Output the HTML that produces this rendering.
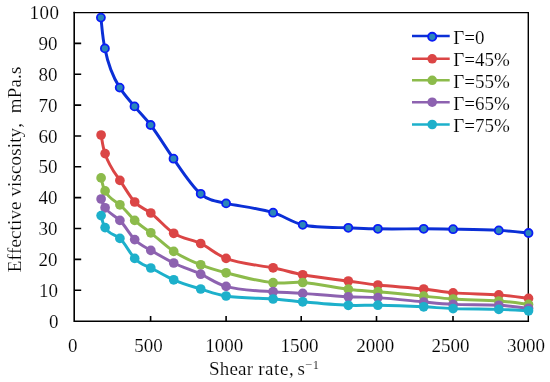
<!DOCTYPE html>
<html><head><meta charset="utf-8"><title>chart</title>
<style>
html,body{margin:0;padding:0;background:#fff;}
body{width:550px;height:382px;overflow:hidden;font-family:"Liberation Serif",serif;}
svg{display:block;will-change:transform;}
text{font-family:"Liberation Serif",serif;fill:#000;font-kerning:none;font-variant-ligatures:none;stroke:#fff;stroke-width:0.15px;}
</style></head><body>
<svg width="550" height="382" viewBox="0 0 550 382">
<rect x="0" y="0" width="550" height="382" fill="#ffffff"/>

<g font-size="19" text-anchor="end">
<text x="59.3" y="19.0" letter-spacing="0.4">100</text>
<text x="57.4" y="49.9">90</text>
<text x="57.4" y="80.8">80</text>
<text x="57.4" y="111.7">70</text>
<text x="57.4" y="142.6">60</text>
<text x="57.4" y="173.4">50</text>
<text x="57.4" y="204.3">40</text>
<text x="57.4" y="235.2">30</text>
<text x="57.4" y="266.1">20</text>
<text x="58.0" y="297.2">10</text>
<text x="58.6" y="328.0">0</text>
</g>
<g font-size="19" text-anchor="middle">
<text x="72.8" y="351.7">0</text>
<text x="148.5" y="351.7">500</text>
<text x="224.2" y="351.7">1000</text>
<text x="299.5" y="351.7">1500</text>
<text x="375.3" y="351.7">2000</text>
<text x="450.6" y="351.7">2500</text>
<text x="526.1" y="351.7">3000</text>
</g>
<text x="209" y="375.2" letter-spacing="0.2" font-size="19">Shear <tspan letter-spacing="0.55">rate,</tspan><tspan x="297.4">s</tspan><tspan font-size="12.5" dy="-6.5">−</tspan><tspan font-size="12.5" dx="0.6">1</tspan></text>
<text transform="translate(21.3,272.2) rotate(-90)" letter-spacing="0.13" font-size="19" xml:space="preserve">Effective viscosity,  mPa.s</text>
<path d="M74.20 290.24 h7 M74.20 259.38 h7 M74.20 228.52 h7 M74.20 197.66 h7 M74.20 166.80 h7 M74.20 135.94 h7 M74.20 105.08 h7 M74.20 74.22 h7 M74.20 43.36 h7 M150.60 321.20 v-5.2 M226.10 321.20 v-5.2 M301.20 321.20 v-5.2 M376.50 321.20 v-5.2 M453.00 321.20 v-5.2" stroke="#000" stroke-width="1.6" fill="none"/>
<path d="M74.20 12.60 H528.30 V321.20" fill="none" stroke="#000" stroke-width="1.4" stroke-linecap="square"/>
<path d="M74.20 12.60 V321.20 H528.30" fill="none" stroke="#000" stroke-width="1.6" stroke-linecap="square"/>
<path d="M100.90 17.60 C101.83 25.08 102.49 37.89 104.90 48.40 C108.75 68.39 114.77 79.88 119.70 87.60 C124.63 95.32 129.44 100.15 134.50 106.40 C139.74 112.87 144.55 117.12 150.60 125.00 C157.55 133.99 165.44 147.05 173.50 158.70 C182.14 171.25 191.81 186.38 200.70 193.80 C209.35 201.03 215.47 201.03 226.10 203.40 C239.61 206.18 259.17 208.23 273.10 212.70 C284.71 216.31 291.23 222.12 302.70 224.80 C316.30 228.12 334.70 227.39 348.30 227.80 C359.77 228.21 366.41 228.58 377.90 228.80 C391.55 229.08 410.07 228.75 423.70 228.80 C435.14 228.85 441.67 228.98 453.10 229.20 C466.70 229.45 485.17 229.64 498.80 230.40 C510.30 231.02 521.57 232.34 528.50 233.00" fill="none" stroke="#0b2fd6" stroke-width="2.95" stroke-linejoin="round" stroke-linecap="round"/>
<circle cx="100.90" cy="17.60" r="4.0" fill="#2b86ba" stroke="#0a1cf5" stroke-width="1.8"/>
<circle cx="104.90" cy="48.40" r="4.0" fill="#2b86ba" stroke="#0a1cf5" stroke-width="1.8"/>
<circle cx="119.70" cy="87.60" r="4.0" fill="#2b86ba" stroke="#0a1cf5" stroke-width="1.8"/>
<circle cx="134.50" cy="106.40" r="4.0" fill="#2b86ba" stroke="#0a1cf5" stroke-width="1.8"/>
<circle cx="150.60" cy="125.00" r="4.0" fill="#2b86ba" stroke="#0a1cf5" stroke-width="1.8"/>
<circle cx="173.50" cy="158.70" r="4.0" fill="#2b86ba" stroke="#0a1cf5" stroke-width="1.8"/>
<circle cx="200.70" cy="193.80" r="4.0" fill="#2b86ba" stroke="#0a1cf5" stroke-width="1.8"/>
<circle cx="226.10" cy="203.40" r="4.0" fill="#2b86ba" stroke="#0a1cf5" stroke-width="1.8"/>
<circle cx="273.10" cy="212.70" r="4.0" fill="#2b86ba" stroke="#0a1cf5" stroke-width="1.8"/>
<circle cx="302.70" cy="224.80" r="4.0" fill="#2b86ba" stroke="#0a1cf5" stroke-width="1.8"/>
<circle cx="348.30" cy="227.80" r="4.0" fill="#2b86ba" stroke="#0a1cf5" stroke-width="1.8"/>
<circle cx="377.90" cy="228.80" r="4.0" fill="#2b86ba" stroke="#0a1cf5" stroke-width="1.8"/>
<circle cx="423.70" cy="228.80" r="4.0" fill="#2b86ba" stroke="#0a1cf5" stroke-width="1.8"/>
<circle cx="453.10" cy="229.20" r="4.0" fill="#2b86ba" stroke="#0a1cf5" stroke-width="1.8"/>
<circle cx="498.80" cy="230.40" r="4.0" fill="#2b86ba" stroke="#0a1cf5" stroke-width="1.8"/>
<circle cx="528.50" cy="233.00" r="4.0" fill="#2b86ba" stroke="#0a1cf5" stroke-width="1.8"/>
<path d="M101.10 135.00 C102.03 139.52 102.69 146.94 105.10 153.60 C108.95 166.00 114.97 173.26 119.90 180.40 C124.83 187.54 129.64 196.43 134.70 202.00 C139.94 207.77 144.75 208.45 150.80 213.00 C157.75 218.15 165.66 228.11 173.70 233.30 C182.29 238.88 191.86 239.45 200.70 243.50 C209.33 247.46 215.47 254.25 226.10 258.40 C239.61 264.02 259.17 265.11 273.10 267.80 C284.71 270.10 291.23 272.61 302.70 274.80 C316.30 277.46 334.70 279.21 348.30 281.00 C359.77 282.52 366.41 283.76 377.90 285.00 C391.55 286.49 410.07 287.47 423.70 289.00 C435.14 290.27 441.67 291.93 453.10 292.90 C466.70 294.07 485.17 293.92 498.80 294.90 C510.30 295.73 521.57 297.49 528.50 298.40" fill="none" stroke="#db4545" stroke-width="2.95" stroke-linejoin="round" stroke-linecap="round"/>
<g fill="#db4545">
<circle cx="101.10" cy="135.00" r="4.85"/>
<circle cx="105.10" cy="153.60" r="4.85"/>
<circle cx="119.90" cy="180.40" r="4.85"/>
<circle cx="134.70" cy="202.00" r="4.85"/>
<circle cx="150.80" cy="213.00" r="4.85"/>
<circle cx="173.70" cy="233.30" r="4.85"/>
<circle cx="200.70" cy="243.50" r="4.85"/>
<circle cx="226.10" cy="258.40" r="4.85"/>
<circle cx="273.10" cy="267.80" r="4.85"/>
<circle cx="302.70" cy="274.80" r="4.85"/>
<circle cx="348.30" cy="281.00" r="4.85"/>
<circle cx="377.90" cy="285.00" r="4.85"/>
<circle cx="423.70" cy="289.00" r="4.85"/>
<circle cx="453.10" cy="292.90" r="4.85"/>
<circle cx="498.80" cy="294.90" r="4.85"/>
<circle cx="528.50" cy="298.40" r="4.85"/>
</g>
<path d="M101.10 177.90 C102.03 181.08 102.69 186.78 105.10 190.90 C108.95 198.90 114.97 200.75 119.90 204.80 C124.83 208.85 129.64 215.51 134.70 220.40 C139.94 225.47 144.75 228.15 150.80 232.80 C157.75 238.10 165.66 245.99 173.70 251.40 C182.29 257.21 191.86 261.39 200.70 264.80 C209.33 268.13 215.47 270.01 226.10 272.80 C239.61 276.44 259.17 281.44 273.10 282.70 C284.71 283.85 291.23 281.69 302.70 282.50 C316.30 283.39 334.70 287.46 348.30 289.20 C359.77 290.65 366.41 290.73 377.90 291.70 C391.55 292.82 410.07 294.68 423.70 296.10 C435.14 297.27 441.67 298.25 453.10 299.00 C466.70 299.90 485.17 299.99 498.80 301.00 C510.30 301.84 521.57 303.53 528.50 304.40" fill="none" stroke="#8cbb4b" stroke-width="2.95" stroke-linejoin="round" stroke-linecap="round"/>
<g fill="#8cbb4b">
<circle cx="101.10" cy="177.90" r="4.85"/>
<circle cx="105.10" cy="190.90" r="4.85"/>
<circle cx="119.90" cy="204.80" r="4.85"/>
<circle cx="134.70" cy="220.40" r="4.85"/>
<circle cx="150.80" cy="232.80" r="4.85"/>
<circle cx="173.70" cy="251.40" r="4.85"/>
<circle cx="200.70" cy="264.80" r="4.85"/>
<circle cx="226.10" cy="272.80" r="4.85"/>
<circle cx="273.10" cy="282.70" r="4.85"/>
<circle cx="302.70" cy="282.50" r="4.85"/>
<circle cx="348.30" cy="289.20" r="4.85"/>
<circle cx="377.90" cy="291.70" r="4.85"/>
<circle cx="423.70" cy="296.10" r="4.85"/>
<circle cx="453.10" cy="299.00" r="4.85"/>
<circle cx="498.80" cy="301.00" r="4.85"/>
<circle cx="528.50" cy="304.40" r="4.85"/>
</g>
<path d="M101.10 199.00 C102.03 201.15 102.69 204.68 105.10 207.80 C108.95 213.57 114.97 215.52 119.90 220.40 C124.83 225.28 129.64 234.32 134.70 239.60 C139.94 245.08 144.75 247.01 150.80 250.40 C157.75 254.24 165.66 259.11 173.70 263.00 C182.29 267.16 191.86 270.22 200.70 274.20 C209.33 278.09 215.47 283.38 226.10 286.40 C239.61 290.50 259.17 290.87 273.10 291.70 C284.71 292.48 291.23 292.56 302.70 293.40 C316.30 294.41 334.70 296.15 348.30 296.80 C359.77 297.37 366.41 296.89 377.90 297.60 C391.55 298.42 410.07 300.66 423.70 302.00 C435.14 303.11 441.67 303.91 453.10 304.40 C466.70 304.98 485.17 304.56 498.80 305.30 C510.30 305.92 521.57 307.52 528.50 308.30" fill="none" stroke="#8d62b0" stroke-width="2.95" stroke-linejoin="round" stroke-linecap="round"/>
<g fill="#8d62b0">
<circle cx="101.10" cy="199.00" r="4.85"/>
<circle cx="105.10" cy="207.80" r="4.85"/>
<circle cx="119.90" cy="220.40" r="4.85"/>
<circle cx="134.70" cy="239.60" r="4.85"/>
<circle cx="150.80" cy="250.40" r="4.85"/>
<circle cx="173.70" cy="263.00" r="4.85"/>
<circle cx="200.70" cy="274.20" r="4.85"/>
<circle cx="226.10" cy="286.40" r="4.85"/>
<circle cx="273.10" cy="291.70" r="4.85"/>
<circle cx="302.70" cy="293.40" r="4.85"/>
<circle cx="348.30" cy="296.80" r="4.85"/>
<circle cx="377.90" cy="297.60" r="4.85"/>
<circle cx="423.70" cy="302.00" r="4.85"/>
<circle cx="453.10" cy="304.40" r="4.85"/>
<circle cx="498.80" cy="305.30" r="4.85"/>
<circle cx="528.50" cy="308.30" r="4.85"/>
</g>
<path d="M101.10 215.60 C102.03 218.56 102.69 224.04 105.10 227.60 C108.95 234.63 114.97 234.03 119.90 238.40 C124.83 242.77 129.64 253.03 134.70 258.40 C139.94 263.98 144.75 265.03 150.80 268.00 C157.75 271.32 165.66 276.23 173.70 279.80 C182.29 283.63 191.86 286.32 200.70 289.00 C209.33 291.61 215.47 294.33 226.10 296.00 C239.61 298.24 259.17 298.10 273.10 299.00 C284.71 299.78 291.23 300.73 302.70 301.80 C316.30 303.11 334.70 304.83 348.30 305.30 C359.77 305.72 366.41 305.06 377.90 305.20 C391.55 305.34 410.07 306.07 423.70 306.80 C435.14 307.39 441.67 308.18 453.10 308.60 C466.70 309.11 485.17 309.01 498.80 309.40 C510.30 309.73 521.57 310.44 528.50 310.80" fill="none" stroke="#1db0cb" stroke-width="2.95" stroke-linejoin="round" stroke-linecap="round"/>
<g fill="#1db0cb">
<circle cx="101.10" cy="215.60" r="4.85"/>
<circle cx="105.10" cy="227.60" r="4.85"/>
<circle cx="119.90" cy="238.40" r="4.85"/>
<circle cx="134.70" cy="258.40" r="4.85"/>
<circle cx="150.80" cy="268.00" r="4.85"/>
<circle cx="173.70" cy="279.80" r="4.85"/>
<circle cx="200.70" cy="289.00" r="4.85"/>
<circle cx="226.10" cy="296.00" r="4.85"/>
<circle cx="273.10" cy="299.00" r="4.85"/>
<circle cx="302.70" cy="301.80" r="4.85"/>
<circle cx="348.30" cy="305.30" r="4.85"/>
<circle cx="377.90" cy="305.20" r="4.85"/>
<circle cx="423.70" cy="306.80" r="4.85"/>
<circle cx="453.10" cy="308.60" r="4.85"/>
<circle cx="498.80" cy="309.40" r="4.85"/>
<circle cx="528.50" cy="310.80" r="4.85"/>
</g>
<path d="M412 35.90 H449.7" stroke="#0b2fd6" stroke-width="2.5" fill="none"/>
<circle cx="432.2" cy="36.80" r="4.05" fill="#2b86ba" stroke="#0a1cf5" stroke-width="1.9"/>
<text x="453.3" y="44.00" font-size="19">Γ=0</text>
<path d="M412 58.80 H449.7" stroke="#db4545" stroke-width="2.5" fill="none"/>
<circle cx="432.2" cy="58.80" r="4.8" fill="#db4545"/>
<text x="453.3" y="66.10" font-size="19">Γ=45%</text>
<path d="M412 80.30 H449.7" stroke="#8cbb4b" stroke-width="2.5" fill="none"/>
<circle cx="432.2" cy="80.30" r="4.8" fill="#8cbb4b"/>
<text x="453.3" y="87.90" font-size="19">Γ=55%</text>
<path d="M412 102.20 H449.7" stroke="#8d62b0" stroke-width="2.5" fill="none"/>
<circle cx="432.2" cy="102.20" r="4.8" fill="#8d62b0"/>
<text x="453.3" y="109.80" font-size="19">Γ=65%</text>
<path d="M412 124.50 H449.7" stroke="#1db0cb" stroke-width="2.5" fill="none"/>
<circle cx="432.2" cy="124.50" r="4.8" fill="#1db0cb"/>
<text x="453.3" y="132.10" font-size="19">Γ=75%</text>
</svg></body></html>
